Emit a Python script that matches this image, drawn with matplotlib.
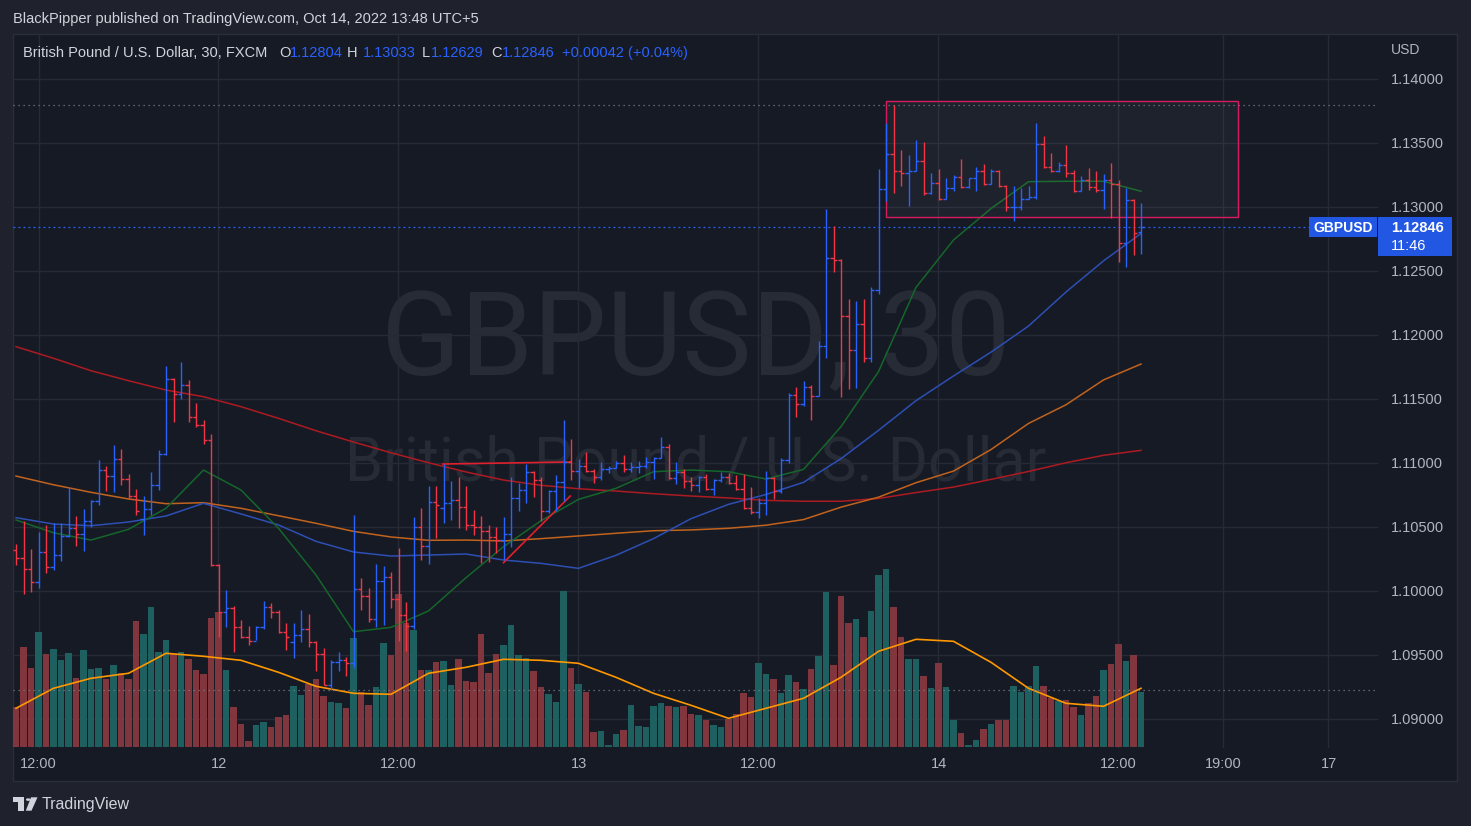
import matplotlib
matplotlib.use("Agg")
import matplotlib.pyplot as plt
import matplotlib.transforms as mtransforms
from matplotlib.patches import Rectangle, Polygon, Circle
import numpy as np

plt.rcParams['font.family'] = ['Liberation Sans', 'DejaVu Sans']

# ---------------- data (GBPUSD 30m, FXCM, bar 0 = Oct 11 10:30) ----------------
opens = [1.10320, 1.10255, 1.10170, 1.10068, 1.10302, 1.10185, 1.10279, 1.10432, 1.10495, 1.10445,
         1.10545, 1.10706, 1.10943, 1.10898, 1.11031, 1.10875, 1.10742, 1.10560, 1.10640, 1.10826,
         1.11068, 1.11654, 1.11539, 1.11609, 1.11357, 1.11295, 1.11180, 1.10205, 1.09838, 1.09865,
         1.09716, 1.09643, 1.09612, 1.09721, 1.09875, 1.09834, 1.09677, 1.09600, 1.09660, 1.09701,
         1.09604, 1.09510, 1.09266, 1.09445, 1.09463, 1.09440, 1.10016, 1.09959, 1.09779, 1.10080,
         1.10110, 1.09937, 1.09812, 1.09727, 1.10500, 1.10352, 1.10695, 1.10650, 1.10690, 1.10711,
         1.10656, 1.10516, 1.10500, 1.10469, 1.10422, 1.10398, 1.10445, 1.10727, 1.10789, 1.10930,
         1.10867, 1.10625, 1.10781, 1.10852, 1.11008, 1.10937, 1.10977, 1.10937, 1.10891, 1.10953,
         1.10961, 1.11000, 1.10953, 1.10969, 1.10977, 1.11008, 1.11039, 1.11125, 1.10883, 1.10930,
         1.10859, 1.10828, 1.10891, 1.10797, 1.10867, 1.10891, 1.10844, 1.10797, 1.10648, 1.10620,
         1.10687, 1.10883, 1.10781, 1.11021, 1.11533, 1.11459, 1.11591, 1.11527, 1.11912, 1.12605,
         1.12589, 1.12148, 1.11880, 1.12084, 1.11821, 1.12349, 1.13140, 1.13412, 1.13285, 1.13269,
         1.13285, 1.13356, 1.13110, 1.13191, 1.13059, 1.13152, 1.13234, 1.13155, 1.13223, 1.13285,
         1.13178, 1.13279, 1.13166, 1.12997, 1.13003, 1.13060, 1.13075, 1.13493, 1.13311, 1.13282,
         1.13330, 1.13266, 1.13127, 1.13208, 1.13159, 1.13133, 1.13208, 1.13178, 1.12719, 1.13052,
         1.12804]
highs = [1.10367, 1.10547, 1.10328, 1.10461, 1.10516, 1.10531, 1.10531, 1.10812, 1.10586, 1.10641,
         1.10711, 1.11023, 1.10977, 1.11138, 1.11109, 1.10914, 1.10797, 1.10742, 1.10930, 1.11102,
         1.11758, 1.11664, 1.11789, 1.11648, 1.11469, 1.11336, 1.11224, 1.10211, 1.10008, 1.09883,
         1.09773, 1.09727, 1.09727, 1.09922, 1.09906, 1.09852, 1.09750, 1.09750, 1.09852, 1.09820,
         1.09609, 1.09555, 1.09463, 1.09523, 1.09484, 1.10594, 1.10102, 1.10023, 1.10211, 1.10195,
         1.10148, 1.10336, 1.09914, 1.10578, 1.10648, 1.10820, 1.10820, 1.10992, 1.10859, 1.10891,
         1.10820, 1.10633, 1.10586, 1.10516, 1.10500, 1.10578, 1.10891, 1.10844, 1.10992, 1.10937,
         1.10891, 1.10789, 1.10906, 1.11336, 1.11187, 1.11031, 1.11086, 1.10953, 1.11008, 1.10977,
         1.11016, 1.11062, 1.11008, 1.11016, 1.11047, 1.11047, 1.11203, 1.11148, 1.11008, 1.10953,
         1.10891, 1.10898, 1.10914, 1.10875, 1.10930, 1.10922, 1.10906, 1.10914, 1.10812, 1.10727,
         1.10937, 1.10891, 1.11037, 1.11543, 1.11595, 1.11637, 1.11608, 1.11954, 1.12987, 1.12852,
         1.12592, 1.12281, 1.12262, 1.12281, 1.12378, 1.13298, 1.13658, 1.13797, 1.13444, 1.13405,
         1.13522, 1.13509, 1.13266, 1.13298, 1.13227, 1.13253, 1.13376, 1.13227, 1.13314, 1.13337,
         1.13298, 1.13288, 1.13175, 1.13166, 1.13152, 1.13166, 1.13658, 1.13551, 1.13421, 1.13350,
         1.13483, 1.13288, 1.13243, 1.13305, 1.13282, 1.13259, 1.13344, 1.13211, 1.13149, 1.13059,
         1.13033]
lows = [1.10203, 1.09977, 1.09995, 1.10026, 1.10143, 1.10164, 1.10237, 1.10420, 1.10354, 1.10315,
        1.10502, 1.10674, 1.10784, 1.10776, 1.10830, 1.10716, 1.10594, 1.10437, 1.10596, 1.10789,
        1.11060, 1.11323, 1.11500, 1.11323, 1.11284, 1.11151, 1.10198, 1.09643, 1.09721, 1.09526,
        1.09635, 1.09580, 1.09620, 1.09706, 1.09791, 1.09674, 1.09541, 1.09479, 1.09604, 1.09565,
        1.09375, 1.09263, 1.09227, 1.09377, 1.09338, 1.09400, 1.09854, 1.09760, 1.09721, 1.09737,
        1.09871, 1.09612, 1.09534, 1.09706, 1.10245, 1.10213, 1.10416, 1.10534, 1.10557, 1.10495,
        1.10479, 1.10440, 1.10221, 1.10229, 1.10299, 1.10245, 1.10346, 1.10625, 1.10688, 1.10734,
        1.10547, 1.10609, 1.10625, 1.10703, 1.10867, 1.10805, 1.10932, 1.10846, 1.10867, 1.10922,
        1.10961, 1.10930, 1.10930, 1.10922, 1.10961, 1.10875, 1.11039, 1.10875, 1.10836, 1.10805,
        1.10781, 1.10773, 1.10789, 1.10750, 1.10852, 1.10836, 1.10789, 1.10641, 1.10602, 1.10570,
        1.10594, 1.10719, 1.10766, 1.10998, 1.11358, 1.11445, 1.11336, 1.11523, 1.11824, 1.12491,
        1.11517, 1.11578, 1.11588, 1.11786, 1.11786, 1.12323, 1.13049, 1.13113, 1.13166, 1.13007,
        1.13285, 1.13095, 1.13104, 1.13052, 1.13059, 1.13127, 1.13152, 1.13152, 1.13127, 1.13172,
        1.13178, 1.13159, 1.12971, 1.12894, 1.12977, 1.13059, 1.13059, 1.13302, 1.13276, 1.13276,
        1.13237, 1.13120, 1.13127, 1.13133, 1.13120, 1.12987, 1.12916, 1.12573, 1.12534, 1.12624,
        1.12629]
closes = [1.10255, 1.10170, 1.10068, 1.10302, 1.10185, 1.10279, 1.10432, 1.10495, 1.10445, 1.10545,
          1.10706, 1.10943, 1.10898, 1.11031, 1.10875, 1.10742, 1.10623, 1.10640, 1.10826, 1.11068,
          1.11654, 1.11539, 1.11609, 1.11357, 1.11295, 1.11180, 1.10205, 1.09838, 1.09865, 1.09716,
          1.09643, 1.09612, 1.09721, 1.09875, 1.09834, 1.09677, 1.09643, 1.09660, 1.09701, 1.09604,
          1.09510, 1.09266, 1.09445, 1.09463, 1.09440, 1.10016, 1.09959, 1.09779, 1.10080, 1.10110,
          1.09937, 1.09812, 1.09727, 1.10500, 1.10352, 1.10695, 1.10672, 1.10690, 1.10711, 1.10656,
          1.10516, 1.10500, 1.10469, 1.10422, 1.10398, 1.10445, 1.10727, 1.10789, 1.10930, 1.10867,
          1.10625, 1.10781, 1.10852, 1.11008, 1.10937, 1.10977, 1.10937, 1.10891, 1.10953, 1.10961,
          1.11000, 1.10953, 1.10969, 1.10977, 1.11008, 1.11039, 1.11125, 1.10883, 1.10930, 1.10859,
          1.10828, 1.10891, 1.10797, 1.10867, 1.10891, 1.10844, 1.10797, 1.10648, 1.10620, 1.10687,
          1.10883, 1.10781, 1.11021, 1.11533, 1.11459, 1.11591, 1.11527, 1.11912, 1.12605, 1.12589,
          1.12148, 1.11880, 1.12084, 1.11821, 1.12349, 1.13140, 1.13412, 1.13285, 1.13269, 1.13285,
          1.13356, 1.13110, 1.13191, 1.13059, 1.13152, 1.13234, 1.13155, 1.13223, 1.13285, 1.13178,
          1.13279, 1.13166, 1.12997, 1.13003, 1.13060, 1.13075, 1.13493, 1.13311, 1.13282, 1.13330,
          1.13266, 1.13127, 1.13208, 1.13159, 1.13133, 1.13208, 1.13178, 1.12719, 1.13052, 1.12796,
          1.12846]
volumes = [40, 100, 79, 115, 93, 98, 87, 94, 69, 97, 78, 79, 68, 82, 74, 68, 126, 113, 140, 95,
           107, 93, 95, 88, 77, 73, 129, 135, 77, 40, 23, 6, 22, 25, 20, 30, 32, 61, 52, 63,
           68, 51, 45, 44, 39, 109, 55, 42, 60, 104, 92, 153, 124, 117, 77, 77, 85, 86, 62, 88,
           66, 65, 113, 74, 93, 102, 122, 92, 89, 76, 60, 53, 45, 156, 79, 63, 55, 15, 16, 2,
           13, 17, 42, 21, 20, 41, 44, 41, 40, 41, 33, 32, 27, 22, 20, 28, 33, 54, 50, 84,
           73, 68, 54, 72, 65, 58, 78, 91, 155, 82, 151, 124, 128, 110, 136, 172, 178, 140, 110, 88,
           88, 71, 59, 84, 60, 27, 14, 2, 7, 18, 23, 27, 27, 61, 55, 61, 81, 61, 49, 46,
           47, 40, 32, 44, 51, 77, 83, 103, 86, 92, 55]

# moving averages, read every 5 bars
ma_bars = list(range(0, 151, 5))
ma_green = [1.10555, 1.10455, 1.10398, 1.10482, 1.10646, 1.10945, 1.10789, 1.10490, 1.10125, 1.09682,
            1.09716, 1.09844, 1.10104, 1.10346, 1.10549, 1.10716, 1.10802, 1.10932, 1.10945, 1.10932,
            1.10875, 1.10950, 1.11284, 1.11714, 1.12372, 1.12742, 1.12988, 1.13198, 1.13201, 1.13201,
            1.13123]
ma_blue = [1.10573, 1.10523, 1.10510, 1.10539, 1.10586, 1.10685, 1.10602, 1.10516, 1.10388, 1.10305,
           1.10273, 1.10281, 1.10289, 1.10242, 1.10216, 1.10177, 1.10279, 1.10409, 1.10565, 1.10677,
           1.10754, 1.10849, 1.11034, 1.11255, 1.11487, 1.11680, 1.11866, 1.12070, 1.12336, 1.12579,
           1.12793]
ma_orange = [1.10898, 1.10830, 1.10771, 1.10719, 1.10682, 1.10690, 1.10646, 1.10588, 1.10529, 1.10466,
             1.10422, 1.10396, 1.10398, 1.10391, 1.10409, 1.10430, 1.10451, 1.10471, 1.10477, 1.10490,
             1.10514, 1.10558, 1.10655, 1.10733, 1.10846, 1.10937, 1.11105, 1.11309, 1.11455, 1.11649,
             1.11773]
ma_red = [1.11909, 1.11818, 1.11721, 1.11643, 1.11570, 1.11518, 1.11440, 1.11349, 1.11252, 1.11164,
          1.11080, 1.11002, 1.10930, 1.10867, 1.10826, 1.10799, 1.10781, 1.10760, 1.10742, 1.10727,
          1.10708, 1.10701, 1.10701, 1.10723, 1.10769, 1.10812, 1.10872, 1.10934, 1.11002, 1.11060,
          1.11099]
vol_ma = [39, 59, 69, 74, 94, 91, 87, 75, 61, 54, 53, 74, 80, 88, 87, 84, 70, 54, 42, 29,
          39, 49, 70, 96, 108, 106, 85, 59, 44, 41, 59]

time_ticks = [3, 27, 51, 75, 99, 123, 147, 161, 175]
time_labels = ['12:00', '12', '12:00', '13', '12:00', '14', '12:00', '19:00', '17']
price_ticks = [1.09, 1.095, 1.10, 1.105, 1.11, 1.115, 1.12, 1.125, 1.13, 1.135, 1.14]

box_bars = [116.0, 162.9]
box_prices = [1.12922, 1.13828]
trend_h_bars = [56.9, 73.9]
trend_h_prices = [1.10992, 1.11008]
trend_d_bars = [65.0, 73.9]
trend_d_prices = [1.10221, 1.10742]
last_price = 1.12846
range_high = 1.13797
range_low = 1.09227

# ---------------- style ----------------
OUTER = '#1f222d'
BG = '#161a25'
BORDER = '#2a2e39'
GRID = '#252a36'
TXT = '#b2b5be'
HEAD = '#d1d4dc'
UP = '#2962ff'
DOWN = '#f23645'
VUP = '#1e5f5f'
VDOWN = '#80363c'
LABEL_BLUE = '#2157e3'
WATERMARK = '#272b36'

W, H = 1471, 826
PL, PR, PT, PB = 13, 1378, 34, 748


def fx(x):
    return x / W


def fy(y):
    return 1 - y / H


fig = plt.figure(figsize=(W / 100, H / 100), dpi=100)
fig.patch.set_facecolor(OUTER)

panel = Rectangle((fx(12.5), fy(781)), fx(1457) - fx(12.5), fy(33.5) - fy(781),
                  transform=fig.transFigure, facecolor=BG, edgecolor=BORDER, lw=1, zorder=-5)
fig.patches.append(panel)

ax = fig.add_axes([fx(PL), fy(PB), fx(PR) - fx(PL), fy(PT) - fy(PB)])
axv = ax.twinx()
ax.set_zorder(3)
axv.set_zorder(2)
ax.patch.set_visible(False)
axv.patch.set_visible(False)

idx = np.arange(len(closes))
o = np.array(opens)
c = np.array(closes)
up = c >= o

# ---- lower layer: watermark, grid, volume ----
axv.text(0.5004, (PB - 375) / (PB - PT), 'GBPUSD, 30', transform=axv.transAxes,
         ha='center', va='baseline', fontsize=84, color=WATERMARK, family=['Roboto', 'DejaVu Sans'], zorder=0)
axv.text(0.5004, (PB - 481) / (PB - PT), 'British Pound / U.S. Dollar', transform=axv.transAxes,
         ha='center', va='baseline', fontsize=44, color=WATERMARK, family=['Roboto', 'DejaVu Sans'], zorder=0)

grid_tr = mtransforms.blended_transform_factory(axv.transAxes, ax.transData)
for p in price_ticks:
    axv.plot([0, 1], [p, p], transform=grid_tr, color=GRID, lw=1, zorder=0.5)
for t in time_ticks:
    axv.axvline(t, color=GRID, lw=1, zorder=0.5)

axv.bar(idx, volumes, width=0.86, color=np.where(up, VUP, VDOWN), linewidth=0, zorder=1)
axv.plot(ma_bars, vol_ma, color='#ff9800', lw=1.2, zorder=2)
axv.set_ylim(-0.7, PB - PT - 0.7)
axv.set_yticks([])
axv.tick_params(right=False, labelright=False)

# ---- price layer ----
ax.plot(ma_bars, ma_red, color='#ad1a22', lw=1.1, zorder=1)
ax.plot(ma_bars, ma_orange, color='#c2631d', lw=1.1, zorder=1)
ax.plot(ma_bars, ma_blue, color='#2d4fb4', lw=1.1, zorder=1)
ax.plot(ma_bars, ma_green, color='#15662a', lw=1.1, zorder=1)

ax.add_patch(Rectangle((box_bars[0], box_prices[0]), box_bars[1] - box_bars[0],
                       box_prices[1] - box_prices[0], facecolor=(1, 1, 1, 0.035),
                       edgecolor='#d81b60', lw=1, zorder=1.5))
ax.plot(trend_h_bars, trend_h_prices, color='#e0202c', lw=1.2, zorder=1.6)
ax.plot(trend_d_bars, trend_d_prices, color='#e0202c', lw=1.2, zorder=1.6)

ax.axhline(range_high, color='#787b86', lw=0.9, ls=(0, (1, 3)), zorder=1.7)
ax.axhline(range_low, color='#787b86', lw=0.9, ls=(0, (1, 3)), zorder=1.7)
ax.axhline(last_price, color=UP, lw=0.9, ls=(0, (1.5, 2.5)), zorder=1.7)

bar_colors = np.where(up, UP, DOWN)
ax.vlines(idx, lows, highs, colors=bar_colors, lw=1.0, zorder=3)
ax.hlines(opens, idx - 0.42, idx, colors=bar_colors, lw=1.0, zorder=3)
ax.hlines(closes, idx, idx + 0.42, colors=bar_colors, lw=1.0, zorder=3)

ax.set_xlim(-0.4, 181.6)
ax.set_ylim(1.13 - (PB - 207) / 12800, 1.13 + (207 - PT) / 12800)
for a in (ax, axv):
    for s in a.spines.values():
        s.set_visible(False)

ax.yaxis.tick_right()
ax.set_yticks(price_ticks)
ax.set_yticklabels([f'{p:.5f}' for p in price_ticks])
ax.tick_params(axis='y', length=0, pad=9.4, labelsize=10.5, labelcolor=TXT)
ax.set_xticks(time_ticks)
ax.set_xticklabels(time_labels)
ax.tick_params(axis='x', length=0, pad=6.5, labelsize=10.5, labelcolor=TXT)

# ---- texts outside plot ----
fig.text(fx(13), fy(19), 'BlackPipper published on TradingView.com, Oct 14, 2022 13:48 UTC+5',
         color=HEAD, fontsize=10.5, va='center', ha='left')

legend_parts = [
    (23, 'British Pound / U.S. Dollar, 30, FXCM', HEAD),
    (279, 'O', HEAD), (290, '1.12804', UP),
    (347, 'H', HEAD), (363, '1.13033', UP),
    (422, 'L', HEAD), (431, '1.12629', UP),
    (491, 'C', HEAD), (502, '1.12846', UP),
    (562, '+0.00042 (+0.04%)', UP),
]
for x, s, col in legend_parts:
    fig.text(fx(x), fy(53), s, color=col, fontsize=10.5, va='center', ha='left')

fig.text(fx(1391), fy(50), 'USD', color=TXT, fontsize=10, va='center', ha='left')

# last price labels
fig.patches.append(Rectangle((fx(1309), fy(237)), fx(1377) - fx(1309), fy(217) - fy(237),
                             transform=fig.transFigure, facecolor=LABEL_BLUE, lw=0, zorder=10))
fig.patches.append(Rectangle((fx(1378), fy(256)), fx(1452) - fx(1378), fy(217) - fy(256),
                             transform=fig.transFigure, facecolor=LABEL_BLUE, lw=0, zorder=10))
fig.text(fx(1343), fy(227.5), 'GBPUSD', color='white', fontsize=10, weight='bold',
         ha='center', va='center', zorder=11)
fig.text(fx(1391), fy(227.5), f'{last_price:.5f}', color='white', fontsize=10.5, weight='bold',
         ha='left', va='center', zorder=11)
fig.text(fx(1391), fy(245.5), '11:46', color='white', fontsize=10.5,
         ha='left', va='center', zorder=11)

# TradingView logo
logo_col = HEAD
fig.patches.append(Polygon([(fx(12.7), fy(797.3)), (fx(24), fy(797.3)), (fx(24), fy(810.7)),
                            (fx(18.3), fy(810.7)), (fx(18.3), fy(801.7)), (fx(12.7), fy(801.7))],
                           closed=True, transform=fig.transFigure, facecolor=logo_col, lw=0))
fig.patches.append(Circle((fx(28.2), fy(799.6)), 2.3 / W, transform=fig.transFigure,
                          facecolor=logo_col, lw=0))
fig.patches.append(Polygon([(fx(31.0), fy(797.3)), (fx(37.5), fy(797.3)), (fx(31.5), fy(810.7)),
                            (fx(25.8), fy(810.7))],
                           closed=True, transform=fig.transFigure, facecolor=logo_col, lw=0))
fig.text(fx(42), fy(804), 'TradingView', color=logo_col, fontsize=11.5, va='center', ha='left')

fig.savefig('out.png', dpi=100, facecolor=fig.get_facecolor())
